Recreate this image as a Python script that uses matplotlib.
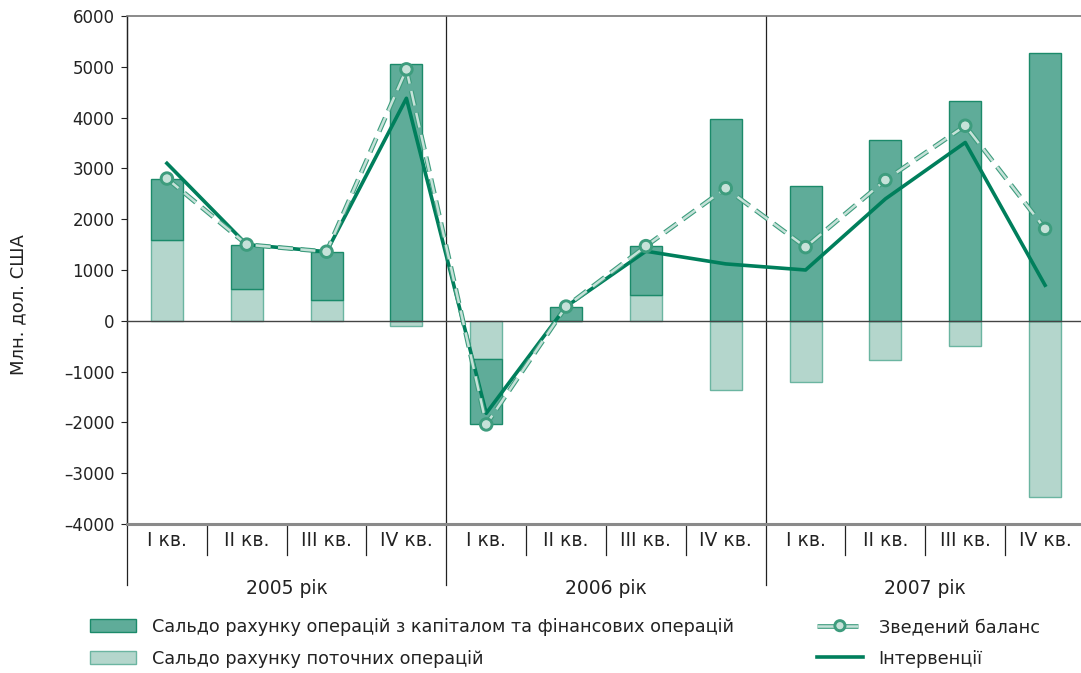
import matplotlib
matplotlib.use("Agg")
import matplotlib.pyplot as plt
import matplotlib.patheffects as pe
from matplotlib.lines import Line2D
from matplotlib.ticker import FuncFormatter, MultipleLocator
from matplotlib.transforms import blended_transform_factory

quarters = ["I кв.", "II кв.", "III кв.", "IV кв."] * 3
years = ["2005 рік", "2006 рік", "2007 рік"]

current_acc = [1600, 620, 400, -100, -750, 0, 500, -1360, -1210, -780, -490, -3460]
capital_acc = [1200, 880, 960, 5050, -1290, 280, 970, 3970, 2660, 3550, 4330, 5270]
balance = [2800, 1500, 1360, 4950, -2040, 280, 1470, 2610, 1450, 2770, 3840, 1810]
interventions = [3100, 1500, 1360, 4380, -1820, 280, 1370, 1120, 1000, 2400, 3510, 700]

DARK = "#5fac99"
DARK_EDGE = "#1b8a6a"
LIGHT = "#b4d6cc"
LIGHT_EDGE = "#6bb5a1"
LINE = "#007f5c"
MARK = "#c6e2d9"
MARK_EDGE = "#3d9c7d"
TXT = "#222222"

plt.rcParams["font.family"] = ["DejaVu Sans"]

fig = plt.figure(figsize=(10.81, 6.73), dpi=100)
W, H = 1081, 673
ax = fig.add_axes([127 / W, 1 - 524 / H, (1081 - 127) / W, (524 - 16) / H])

x = list(range(12))
# capital bar sits on the current-account bar when both have the same sign
cap_bottom = [c if (c > 0) == (k > 0) and c != 0 else 0 for c, k in zip(current_acc, capital_acc)]

cur_bars = ax.bar(x, current_acc, width=0.4, color=LIGHT, edgecolor=LIGHT_EDGE, linewidth=1, zorder=2)
cap_bars = ax.bar(x, capital_acc, width=0.4, bottom=cap_bottom, color=DARK, edgecolor=DARK_EDGE,
                  linewidth=1, zorder=2)

ax.axhline(0, color="#444444", lw=1, zorder=3)

outline = [pe.Stroke(linewidth=3.4, foreground=MARK_EDGE), pe.Normal()]
int_line, = ax.plot(x, interventions, color=LINE, lw=2.6, zorder=4)
ax.plot(x, balance, color=MARK, lw=1.8, dashes=(6, 3), marker="o", markersize=7,
        markerfacecolor=MARK, markeredgecolor=MARK_EDGE, markeredgewidth=0.8,
        path_effects=outline, zorder=5)

ax.set_xlim(-0.5, 11.45)
ax.set_ylim(-4000, 6000)
ax.yaxis.set_major_locator(MultipleLocator(1000))
ax.yaxis.set_major_formatter(FuncFormatter(lambda v, p: f"{int(v)}".replace("-", "–")))
ax.tick_params(axis="y", length=4, width=0.8, pad=5, labelsize=12, colors=TXT)
ax.set_xticks([])

ax.spines["right"].set_visible(False)
ax.spines["top"].set_color("#777777")
ax.spines["top"].set_linewidth(1.2)
ax.spines["bottom"].set_color("#8a8a8a")
ax.spines["bottom"].set_linewidth(2.2)
ax.spines["left"].set_color(TXT)
ax.spines["left"].set_linewidth(0.9)

trans = blended_transform_factory(ax.transData, ax.transAxes)
year_low = -(585 - 524) / 508
q_low = -(555 - 524) / 508
for b in [-0.5, 3.5, 7.5]:
    ax.plot([b, b], [year_low, 1], transform=trans, color=TXT, lw=0.9, clip_on=False, zorder=1)
for i in range(12):
    if i % 4 != 0:
        ax.plot([i - 0.5, i - 0.5], [q_low, 0], transform=trans, color=TXT, lw=0.9, clip_on=False)
    ax.text(i, -(541 - 524) / 508, quarters[i], transform=trans, ha="center", va="center",
            fontsize=13.5, color=TXT)
for j, yr in enumerate(years):
    ax.text(4 * j + 1.5, -(588 - 524) / 508, yr, transform=trans, ha="center", va="center",
            fontsize=13.5, color=TXT)

fig.text(18 / W, 1 - 305 / H, "Млн. дол. США", rotation=90, ha="center", va="center",
         fontsize=13, color=TXT)

# legend handle for the balance line: segment - marker - segment
bal_handle = Line2D([], [], color=MARK, lw=1.8, dashes=(7.2, 2.0), marker="o", markersize=6,
                    markerfacecolor=MARK, markeredgecolor=MARK_EDGE, markeredgewidth=0.8,
                    path_effects=outline)

leg_kw = dict(frameon=False, handlelength=2.6, handleheight=0.75,
              handletextpad=0.9, labelspacing=0.78, borderpad=0, borderaxespad=0,
              prop={"size": 12.7})
l1 = fig.legend([cap_bars, cur_bars],
                ["Сальдо рахунку операцій з капіталом та фінансових операцій",
                 "Сальдо рахунку поточних операцій"],
                loc="upper left", bbox_to_anchor=(90 / W, 1 - 618 / H), **leg_kw)
l2 = fig.legend([bal_handle, int_line], ["Зведений баланс", "Інтервенції"],
                loc="upper left", bbox_to_anchor=(817 / W, 1 - 618 / H), **leg_kw)
for leg in (l1, l2):
    for t in leg.get_texts():
        t.set_color(TXT)

fig.savefig("out.png", dpi=100)
